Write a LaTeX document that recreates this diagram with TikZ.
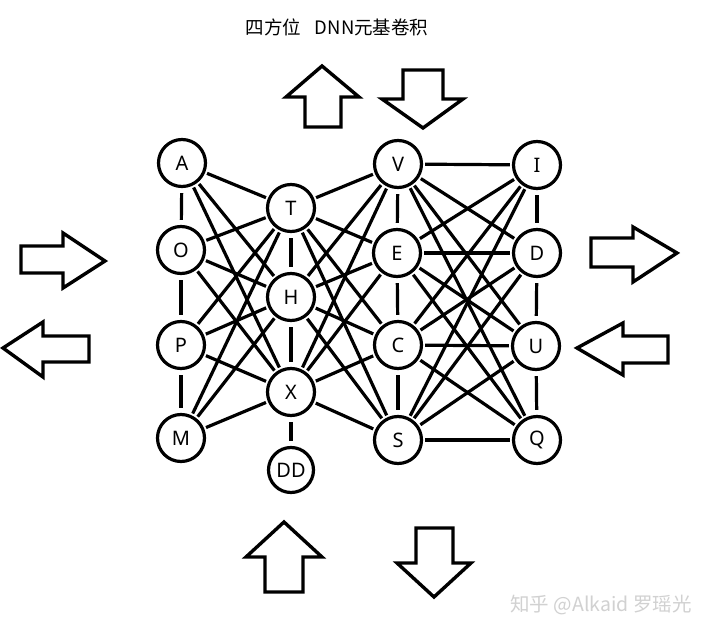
\documentclass[tikz,border=0pt]{standalone}
\usepackage{fontspec}
\setmainfont{Noto Sans}
\newfontfamily\cjk{Noto Sans CJK SC}
\begin{document}
\begin{tikzpicture}[x=1pt,y=-1pt,
  nd/.style={circle,draw,line width=3.2pt,minimum size=47pt,inner sep=0pt,fill=white,font=\fontsize{20}{20}\selectfont},
  edge/.style={line width=3.2pt,shorten <=2pt,shorten >=2pt},
  vedge/.style={line width=3.2pt,shorten <=5pt,shorten >=5pt},
  barrow/.style={draw,line width=3.4pt,line join=miter}]
\useasboundingbox[fill=white] (0,0) rectangle (720,636);
% nodes
\node[nd] (A) at (182,163) {A};
\node[nd] (O) at (181,250) {O};
\node[nd] (P) at (181,345) {P};
\node[nd] (M) at (181,438) {M};
\node[nd] (T) at (291,208) {T};
\node[nd] (H) at (291,297) {H};
\node[nd] (X) at (291,392) {X};
\node[nd,minimum size=45pt] (DD) at (291,470) {DD};
\node[nd] (V) at (398,164) {V};
\node[nd] (E) at (397,253) {E};
\node[nd] (C) at (398,345) {C};
\node[nd] (S) at (398,440) {S};
\node[nd] (I) at (537,165) {I};
\node[nd] (D) at (537,253) {D};
\node[nd] (U) at (536,346) {U};
\node[nd] (Q) at (537,440) {Q};
% edges
\foreach \a in {A,O,P,M} \foreach \b in {T,H,X} \draw[edge] (\a) -- (\b);
\foreach \a in {T,H,X} \foreach \b in {V,E,C,S} \draw[edge] (\a) -- (\b);
\foreach \a in {V,E,C,S} \foreach \b in {I,D,U,Q} \draw[edge] (\a) -- (\b);
\draw[vedge] (A) -- (O); \draw[vedge] (O) -- (P); \draw[vedge] (P) -- (M);
\draw[vedge] (T) -- (H); \draw[vedge] (H) -- (X); \draw[vedge] (X) -- (DD);
\draw[vedge] (V) -- (E); \draw[vedge] (E) -- (C); \draw[vedge] (C) -- (S);
\draw[vedge] (I) -- (D); \draw[vedge] (D) -- (U); \draw[vedge] (U) -- (Q);
% block arrows
\draw[barrow] (322,66) -- (359,97) -- (341,97) -- (341,127) -- (305,127) -- (305,97) -- (286,97) -- cycle;
\draw[barrow] (423,128) -- (463,99) -- (443,99) -- (443,70) -- (403,70) -- (403,99) -- (382,99) -- cycle;
\draw[barrow] (284,522) -- (322,557) -- (303,557) -- (303,592) -- (265,592) -- (265,557) -- (246,557) -- cycle;
\draw[barrow] (434,597) -- (471,563) -- (453,563) -- (453,528) -- (416,528) -- (416,563) -- (397,563) -- cycle;
\draw[barrow] (105,261) -- (63,233) -- (63,246) -- (21,246) -- (21,273) -- (63,273) -- (63,288) -- cycle;
\draw[barrow] (3,348) -- (43,322) -- (43,336) -- (89,336) -- (89,362) -- (43,362) -- (43,377) -- cycle;
\draw[barrow] (677,253) -- (633,227) -- (633,238) -- (591,238) -- (591,267) -- (633,267) -- (633,282) -- cycle;
\draw[barrow] (577,348) -- (623,323) -- (623,336) -- (668,336) -- (668,363) -- (623,363) -- (623,375) -- cycle;
% text
\node[font=\cjk\fontsize{18.5}{18.5}\selectfont] (title) at (337,27) {四方位\hspace{14pt}DNN元基卷积};
\node[font=\cjk\fontsize{19.5}{19.5}\selectfont,text=black!18] (wm) at (601,605) {知乎 @Alkaid 罗瑶光};
\end{tikzpicture}
\end{document}
